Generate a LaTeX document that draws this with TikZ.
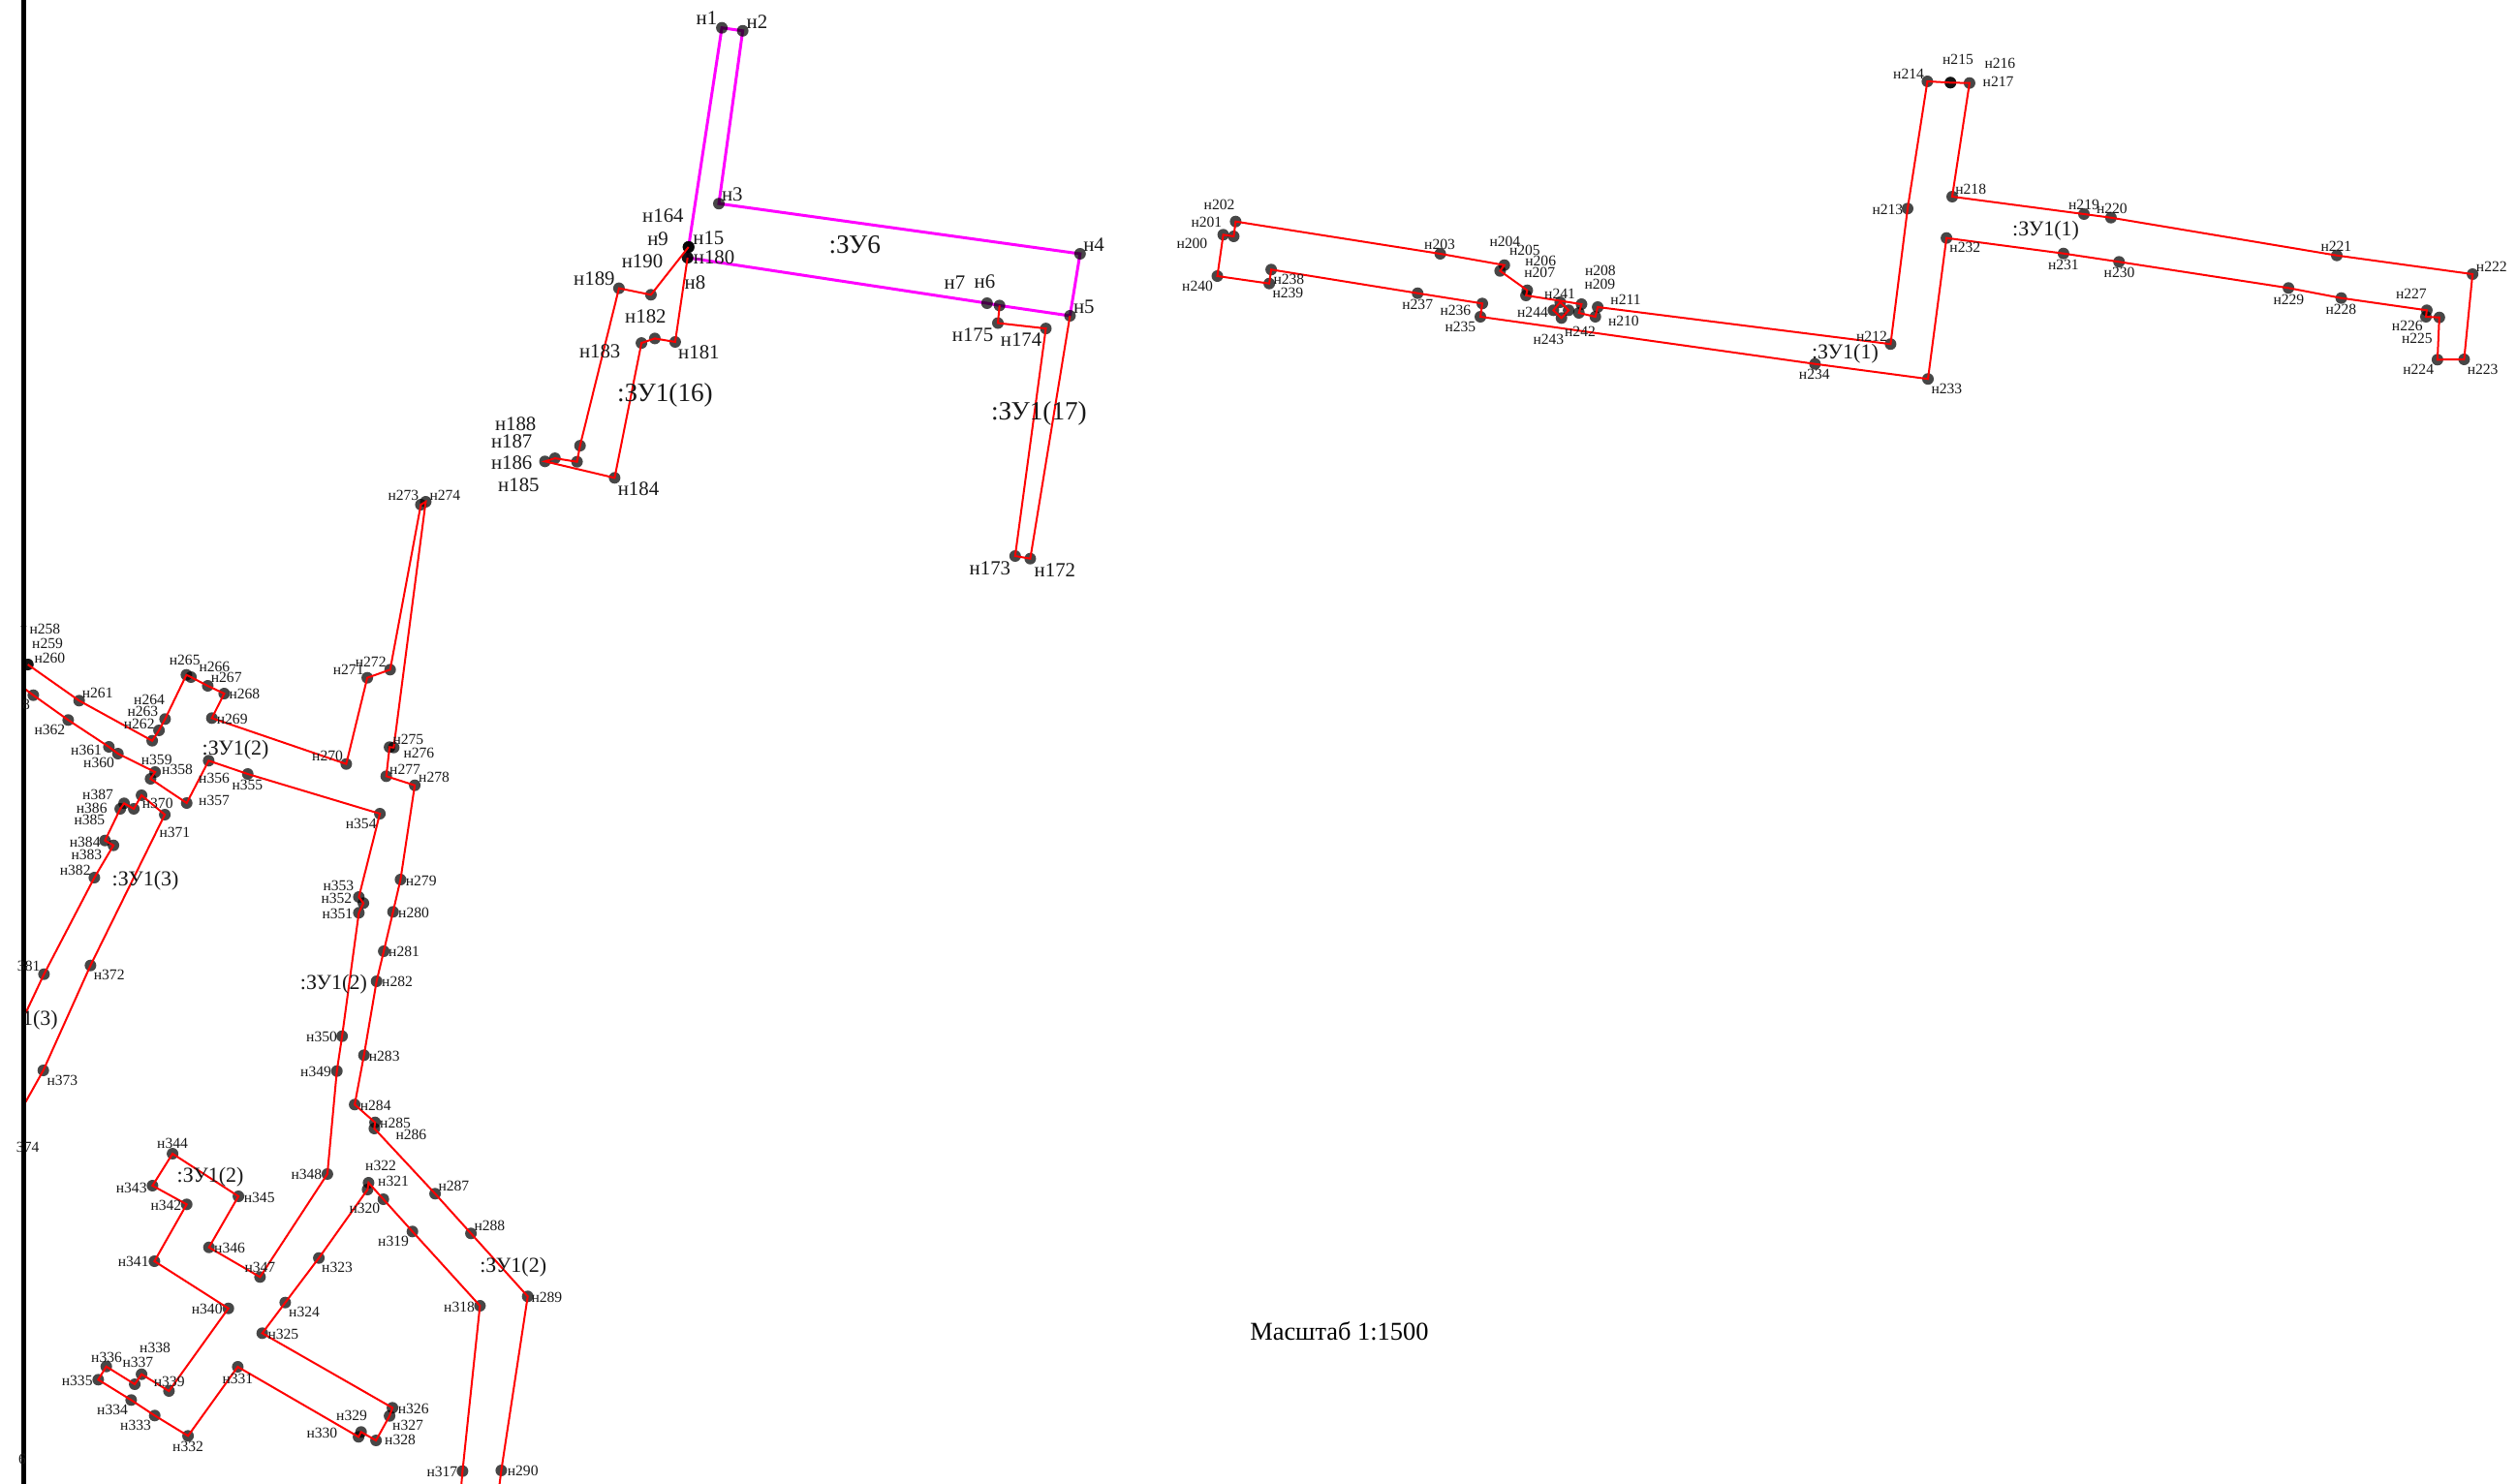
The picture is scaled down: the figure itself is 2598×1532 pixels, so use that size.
\documentclass[tikz,border=0pt]{standalone}
\usepackage{fontspec}
\setmainfont{Liberation Serif}
\usetikzlibrary{backgrounds}
\definecolor{pinkl}{RGB}{255,0,255}
\newcommand\D[3]{\node[dotm] (n#1) at (#2,#3) {};}
\newcommand\Ls[3]{\node[lbs] (l#1) at (#2,#3) {н#1};}
\newcommand\Lb[3]{\node[lbb] (l#1) at (#2,#3) {н#1};}
\newcommand\T[5]{\node[#1] (t#2) at (#4,#5) {#3};}
\tikzset{
  x=0.5pt,y=-0.5pt,
  dotm/.style={circle,inner sep=0pt,minimum size=6pt,fill=black,fill opacity=0.72,draw=none},
  lbs/.style={inner sep=0pt,text=black!90,font=\fontsize{7.8}{8}\selectfont},
  lbb/.style={inner sep=0pt,text=black!90,font=\fontsize{10.4}{11}\selectfont},
  lbm/.style={inner sep=0pt,text=black!90,font=\fontsize{11}{12}\selectfont},
  lbl/.style={inner sep=0pt,text=black!90,font=\fontsize{13.6}{15}\selectfont},
  lbt/.style={inner sep=0pt,text=black,font=\fontsize{13.2}{14}\selectfont},
  redl/.style={draw=red,line width=1pt,line join=miter},
  magl/.style={draw=pinkl,line width=1.5pt,line join=miter},
  edge/.style={draw=black,line width=2.5pt}
}
\begin{document}
\begin{tikzpicture}
\useasboundingbox (0,0) rectangle (2598,1532);
\begin{scope}[yshift=-0.5pt,xshift=0.2pt]
% upper group
\D{1}{744.7}{27.7}\D{2}{766.2}{30.8}\D{3}{741.6}{209.2}\D{4}{1114.4}{261}\D{5}{1104}{325}
\D{6}{1031.3}{314.4}\D{7}{1018.4}{312}
\D{9}{710.3}{254}\D{15}{710.3}{254}\D{164}{710.3}{254}\D{8}{709.3}{265}\D{180}{709.3}{265}
\D{189}{638.5}{296.6}\D{190}{671.5}{303.3}\D{181}{696.5}{352}\D{182}{675.5}{348.4}\D{183}{661.7}{353.1}
\D{184}{634}{492.3}\D{185}{562.1}{475.3}\D{186}{572.4}{472.1}\D{187}{595.2}{475.7}\D{188}{598.3}{459.1}
\D{175}{1029.6}{332.5}\D{174}{1079.1}{338.1}\D{173}{1047.4}{573}\D{172}{1063}{575.7}
% right group
\D{200}{1262.2}{241.3}\D{201}{1273}{243}\D{202}{1275}{227.7}\D{203}{1486.2}{261}
\D{204}{1552.3}{272.7}\D{205}{1548}{278.7}\D{206}{1576}{298.7}\D{207}{1574.7}{304}
\D{208}{1632}{313}\D{209}{1629.3}{322}\D{210}{1646.3}{326}\D{211}{1648.7}{316}
\D{212}{1951}{354.2}\D{213}{1968.6}{214.3}\D{214}{1989}{83}\D{215}{2012.8}{84.3}\D{216}{2012.8}{84.3}\D{217}{2032.5}{84.7}
\D{218}{2014.6}{202}\D{219}{2150.6}{220}\D{220}{2178.5}{223.7}\D{221}{2411.6}{262.7}\D{222}{2551.7}{282}
\D{223}{2543}{370}\D{224}{2515.5}{370.3}\D{225}{2517.4}{326.7}\D{226}{2503.6}{326}\D{227}{2504.5}{319.3}
\D{228}{2416.2}{306.7}\D{229}{2361.7}{296.3}\D{230}{2186.8}{269.3}\D{231}{2129.5}{260.7}\D{232}{2008.7}{244.7}
\D{233}{1989.6}{390.2}\D{234}{1873}{374.7}\D{235}{1527.6}{326}\D{236}{1529.6}{312.3}\D{237}{1462.8}{301.7}
\D{238}{1311.7}{277.3}\D{239}{1309.7}{291.7}\D{240}{1256.1}{284}
\D{241}{1610}{311}\D{242}{1618.7}{319.3}\D{243}{1611.3}{327.3}\D{244}{1603}{319.3}
% left group
\D{259}{28.3}{685}\D{260}{28.3}{685}
\D{261}{81.3}{722.3}\D{262}{156.7}{763.7}\D{263}{163.7}{753}\D{264}{170}{741.3}\D{265}{192}{695.7}\D{266}{196.7}{698}
\D{267}{214}{707}\D{268}{231}{715}\D{269}{218.3}{740.3}\D{270}{357}{787.7}\D{271}{378.7}{698.7}\D{272}{402.3}{690.3}
\D{273}{434}{520}\D{274}{439}{517}\D{275}{406}{770.7}\D{276}{401.7}{770.3}\D{277}{398.3}{800.3}\D{278}{427.7}{809.7}
\D{279}{413}{907}\D{280}{405.3}{940.3}\D{281}{395.7}{981}\D{282}{388.3}{1012}\D{283}{375.3}{1088.3}\D{284}{365.7}{1139.3}
\D{285}{386.7}{1157.7}\D{286}{386}{1164}\D{287}{448.7}{1231.3}\D{288}{485.7}{1272.3}\D{289}{544.3}{1337.3}\D{290}{517}{1517}
\D{317}{477}{1517.7}\D{318}{495}{1347}\D{319}{425.3}{1270.3}\D{320}{395.3}{1237}\D{321}{379}{1227}\D{322}{380}{1220}
\D{323}{328.7}{1297.7}\D{324}{294}{1343.7}\D{325}{270.3}{1375.3}\D{326}{404.7}{1452.3}\D{327}{401.7}{1460.7}\D{328}{387.7}{1486}
\D{329}{372.3}{1477.3}\D{330}{369.7}{1482.3}\D{331}{245}{1410}\D{332}{193.7}{1481.3}\D{333}{159.3}{1460.3}\D{334}{135}{1444.3}
\D{335}{101}{1423.3}\D{336}{109.3}{1409.7}\D{337}{138.7}{1428}\D{338}{145.7}{1417.7}\D{339}{174}{1435}\D{340}{235.3}{1349.7}
\D{341}{159}{1301}\D{342}{192.3}{1242.3}\D{343}{157}{1223}\D{344}{177.7}{1190}\D{345}{245.7}{1234}\D{346}{215.3}{1286.7}
\D{347}{268}{1317.3}\D{348}{337.5}{1211}\D{349}{347.3}{1104.7}\D{350}{352.7}{1068.7}\D{351}{370}{941.3}\D{352}{374.7}{931.3}
\D{353}{370}{925}\D{354}{391.7}{839}\D{355}{255.3}{798}\D{356}{215}{784.3}\D{357}{192.3}{828}\D{358}{155}{803}\D{359}{159.7}{796}
\D{360}{121.3}{777}\D{361}{112}{770}\D{362}{70}{742.3}\D{363}{34}{716.7}
\D{370}{145.7}{820}\D{371}{169.7}{840}\D{372}{93}{995.7}\D{373}{44.3}{1104}
\D{381}{45}{1004.7}\D{382}{97}{905}\D{383}{116.7}{871.7}\D{384}{108}{866.7}\D{385}{123.7}{834}\D{386}{127.7}{828.3}\D{387}{137.7}{834}
% free ends
\coordinate (e317) at (475.7,1533);
\coordinate (e290) at (515,1533);
\coordinate (e363) at (26,710.7);
\coordinate (e373) at (26,1136.7);
\coordinate (e381) at (26,1045);
% magenta contour under the points
\begin{pgfonlayer}{background}
\draw[magl] (n1.center) foreach \k in {2,3,4,5,6,7} {-- (n\k.center)} -- (n180.center) -- (n15.center) -- cycle;
\end{pgfonlayer}
% red contours
\draw[redl] (n15.center) foreach \k in {190,189,...,181} {-- (n\k.center)} -- (n180.center);
\draw[redl] (n6.center) -- (n175.center) -- (n174.center) -- (n173.center) -- (n172.center) -- (n5.center);
\draw[redl] (n200.center) foreach \k in {201,202,...,240} {-- (n\k.center)} -- cycle;
\draw[redl] (n241.center) -- (n242.center) -- (n243.center) -- (n244.center) -- cycle;
\draw[redl] (n260.center) foreach \k in {261,262,...,290} {-- (n\k.center)} -- (e290);
\draw[redl] (e317) -- (n317.center) -- (n318.center) -- (n319.center) -- (n320.center) -- (n322.center) -- (n321.center) foreach \k in {323,324,...,363} {-- (n\k.center)} -- (e363);
\draw[redl] (e373) -- (n373.center) -- (n372.center) -- (n371.center) -- (n370.center) -- (n387.center) -- (n386.center) -- (n385.center) -- (n384.center) -- (n383.center) -- (n382.center) -- (n381.center) -- (e381);
% left edge
\coordinate (ea) at (24,-2);
\coordinate (eb) at (24,1534);
\draw[edge] (ea) -- (eb);
\fill[black] (21,645) -- (27,645) -- (24,652) -- cycle;
% big labels
\Lb{1}{729}{17.8}\Lb{2}{781}{21.7}\Lb{3}{755.4}{200}\Lb{4}{1128.7}{251.5}\Lb{5}{1118.4}{316}\Lb{6}{1016}{290}\Lb{7}{985}{291}
\Lb{8}{717}{291}\Lb{9}{678.7}{246}\Lb{15}{731}{244.8}\Lb{164}{684}{221.8}\Lb{180}{736.7}{264.5}\Lb{190}{662.6}{268.5}\Lb{189}{613}{286.7}
\Lb{182}{666}{326}\Lb{183}{618.8}{361.4}\Lb{181}{721}{363}\Lb{188}{531.8}{436.5}\Lb{187}{527.8}{455}\Lb{186}{527.8}{476.9}\Lb{185}{535}{499.8}\Lb{184}{658.6}{504}
\Lb{175}{1003.7}{344.8}\Lb{174}{1053.7}{349.5}\Lb{173}{1021.5}{585.6}\Lb{172}{1088.5}{587.6}
\T{lbl}{a}{:ЗУ6}{881.8}{251.9}
\T{lbl}{b}{:ЗУ1(16)}{686}{407.3}
\T{lbl}{c}{:ЗУ1(17)}{1072}{426.3}
% right labels
\Ls{202}{1258.2}{210.3}\Ls{201}{1245}{228.7}\Ls{200}{1230}{250.3}\Ls{240}{1235.7}{294.3}\Ls{238}{1330}{287.3}\Ls{239}{1329}{301.3}
\Ls{237}{1462.8}{313.3}\Ls{203}{1485.7}{251.3}\Ls{236}{1502}{319.7}\Ls{235}{1507}{336.3}\Ls{204}{1553}{248.3}\Ls{205}{1573.5}{257.3}
\Ls{206}{1589.8}{268.3}\Ls{207}{1588.8}{280.3}\Ls{208}{1651.5}{278.3}\Ls{209}{1651}{292.3}\Ls{211}{1677.6}{308}\Ls{210}{1675.5}{330.3}
\Ls{241}{1609.7}{302.3}\Ls{244}{1581.6}{321}\Ls{242}{1630.6}{341.7}\Ls{243}{1598}{349.7}\Ls{234}{1872.4}{385.7}\Ls{212}{1931.6}{346}\Ls{213}{1948}{215.5}
\T{lbm}{d}{:ЗУ1(1)}{1904}{364.3}
\T{lbm}{e}{:ЗУ1(1)}{2111.2}{237.7}
\Ls{214}{1969.7}{75.3}\Ls{215}{2020.6}{60.3}\Ls{216}{2064}{64.3}\Ls{217}{2062.2}{83.3}\Ls{218}{2033.8}{194}\Ls{219}{2150.6}{210.7}\Ls{220}{2179.5}{214}
\Ls{221}{2411}{253.3}\Ls{222}{2571.4}{274.3}\Ls{232}{2027.9}{254.3}\Ls{231}{2129.5}{272}\Ls{230}{2187.2}{280}\Ls{229}{2362}{308}\Ls{228}{2416}{318}
\Ls{227}{2488.5}{302.7}\Ls{226}{2484.4}{335.7}\Ls{225}{2494.5}{348.3}\Ls{224}{2495.8}{380.3}\Ls{223}{2562.2}{380.3}\Ls{233}{2009}{400.3}
% left labels
\Ls{258}{46}{648.3}\Ls{259}{48.7}{663}\Ls{260}{51}{678.3}\Ls{261}{100.3}{714.3}\Ls{264}{153.7}{721.3}\Ls{263}{147}{733.7}\Ls{262}{143.3}{746.3}
\Ls{265}{190.3}{680.3}\Ls{266}{221}{687.7}\Ls{267}{233.3}{698}\Ls{268}{252}{715}\Ls{269}{239.3}{741}\Ls{270}{337.7}{779.7}\Ls{271}{359.3}{690.7}\Ls{272}{382.3}{682.3}
\Ls{273}{416}{510}\Ls{274}{459}{510}\Ls{275}{421}{762.3}\Ls{276}{432}{776.3}\Ls{277}{417.7}{793}\Ls{278}{447.7}{801.7}
\T{lbm}{f}{:ЗУ1(2)}{242.7}{773}
\Ls{362}{51}{752.3}\Ls{361}{88.7}{773.3}\Ls{360}{101.7}{786}\Ls{359}{161.3}{783.7}\Ls{358}{182.7}{793}\Ls{356}{220.7}{802}\Ls{355}{255}{809}\Ls{357}{220.7}{825.3}\Ls{354}{372.3}{849.3}
\Ls{387}{100.7}{819}\Ls{386}{94.3}{833.3}\Ls{385}{92}{845.7}\Ls{370}{162.3}{828.3}\Ls{371}{180}{858.3}\Ls{384}{87.3}{868.3}\Ls{383}{89}{881.7}\Ls{382}{77.3}{897}
\T{lbm}{g}{:ЗУ1(3)}{149.7}{908.3}
\T{lbs}{h}{8}{26.7}{726}
\Ls{372}{112.3}{1005.3}\Ls{373}{64}{1114}
\T{lbs}{i}{381}{29.3}{996}
\T{lbs}{j}{374}{28.3}{1183.3}
\T{lbm}{k}{1(3)}{41}{1051.7}
\T{lbs}{m}{6}{22.7}{1505.6}
\Ls{353}{349}{913.3}\Ls{352}{347}{926.7}\Ls{351}{348}{942.3}\Ls{279}{434.3}{908.3}\Ls{280}{426.7}{941}\Ls{281}{416.7}{981.3}\Ls{282}{409.7}{1012.3}
\T{lbm}{o}{:ЗУ1(2)}{344}{1014.7}
\Ls{350}{331.7}{1069.3}\Ls{349}{325.7}{1105.7}\Ls{283}{396.3}{1089}\Ls{284}{387.3}{1140.3}\Ls{285}{407.7}{1158.7}\Ls{286}{424}{1170.3}\Ls{348}{316}{1211.7}
\Ls{322}{392.7}{1202.3}\Ls{321}{405.7}{1218.3}\Ls{320}{376}{1246.3}\Ls{319}{405.7}{1280.3}\Ls{287}{468}{1223.3}\Ls{288}{505}{1264}
\T{lbm}{p}{:ЗУ1(2)}{529.3}{1306.7}
\Ls{289}{564}{1338.3}\Ls{318}{473.7}{1348.3}\Ls{323}{347.7}{1307.3}\Ls{324}{313.7}{1353.3}\Ls{325}{292}{1376.3}\Ls{326}{426.3}{1453}\Ls{327}{420.7}{1470}
\Ls{328}{412.7}{1485.3}\Ls{329}{362.7}{1460.3}\Ls{330}{332}{1478}\Ls{317}{456}{1518.7}\Ls{290}{539.3}{1517.7}
\Ls{344}{177.7}{1179.3}
\T{lbm}{q}{:ЗУ1(2)}{216.7}{1214.3}
\Ls{345}{267.3}{1235.3}\Ls{343}{135.3}{1225}\Ls{342}{171}{1243.7}\Ls{341}{137.3}{1301.7}\Ls{346}{236.7}{1287.3}\Ls{347}{268}{1307.3}\Ls{340}{213.3}{1350.3}
\Ls{338}{159.7}{1390}\Ls{337}{142}{1405.7}\Ls{336}{109.7}{1400.7}\Ls{335}{79.3}{1424.3}\Ls{339}{174.3}{1425.3}\Ls{334}{115.7}{1454.3}\Ls{333}{139.7}{1470.3}\Ls{332}{193.7}{1492}\Ls{331}{245}{1422.7}
\T{lbt}{r}{Масштаб 1:1500}{1382}{1373.6}
\end{scope}
\end{tikzpicture}
\end{document}
